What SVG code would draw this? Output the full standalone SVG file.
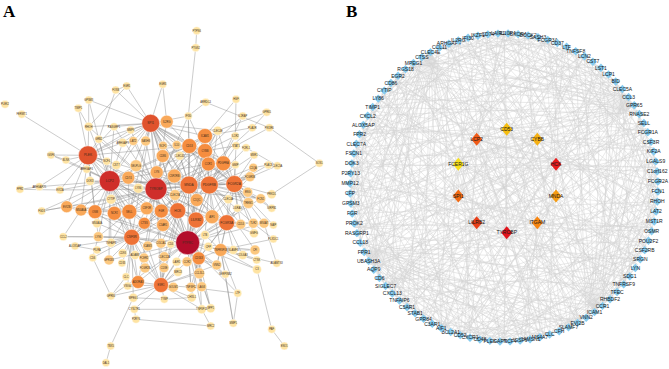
<svg xmlns="http://www.w3.org/2000/svg" width="669" height="369" viewBox="0 0 669 369">
<style>
.ttl{font-family:"Liberation Serif","Times New Roman",serif;font-weight:bold;font-size:17px;fill:#000}
.ea{stroke:#8e8e8e;stroke-width:.45;fill:none}
.eb{stroke:#c4c4c4;stroke-width:.45;fill:none;opacity:.75}
#nodesA circle{stroke:#fff;stroke-width:.5}
#nodesA text{font:2.6px "Liberation Sans",Arial,sans-serif;fill:#3b2b1b;text-anchor:middle}
#nodesA text.tl{font-size:3.2px}
#nodesB text{font:5px "Liberation Sans",Arial,sans-serif;fill:#151515;text-anchor:middle}
.c1{fill:#b30d2b}.c2{fill:#cf2e2a}.c3{fill:#e0532d}.c4{fill:#ee7236}.c5{fill:#f58d3f}.c6{fill:#f9a95a}.c7{fill:#fcc87f}.c8{fill:#fee3a2}
</style>
<defs>
<path id="od" d="M0 -4.2L4.2 0L0 4.2L-4.2 0Z" fill="#86cbef"/>
<path id="idm" d="M0 -6.5L5.5 0L0 6.5L-5.5 0Z"/>
<line id="s2" x1="154" y1="0" x2="148.8" y2="39.9"/>
<line id="s3" x1="154" y1="0" x2="142.3" y2="58.9"/>
<line id="s4" x1="154" y1="0" x2="133.4" y2="77"/>
<line id="s5" x1="154" y1="0" x2="122.2" y2="93.8"/>
<line id="s6" x1="154" y1="0" x2="108.9" y2="108.9"/>
<line id="s7" x1="154" y1="0" x2="93.8" y2="122.2"/>
<line id="s8" x1="154" y1="0" x2="77" y2="133.4"/>
<line id="s9" x1="154" y1="0" x2="58.9" y2="142.3"/>
<line id="s10" x1="154" y1="0" x2="39.9" y2="148.8"/>
<line id="s11" x1="154" y1="0" x2="20.1" y2="152.7"/>
<line id="s12" x1="154" y1="0" x2="0" y2="154"/>
<line id="s13" x1="154" y1="0" x2="-20.1" y2="152.7"/>
<line id="s14" x1="154" y1="0" x2="-39.9" y2="148.8"/>
<line id="s15" x1="154" y1="0" x2="-58.9" y2="142.3"/>
<line id="s16" x1="154" y1="0" x2="-77" y2="133.4"/>
<line id="s17" x1="154" y1="0" x2="-93.8" y2="122.2"/>
<line id="s18" x1="154" y1="0" x2="-108.9" y2="108.9"/>
<line id="s19" x1="154" y1="0" x2="-122.2" y2="93.8"/>
<line id="s20" x1="154" y1="0" x2="-133.4" y2="77"/>
<line id="s21" x1="154" y1="0" x2="-142.3" y2="58.9"/>
<line id="s22" x1="154" y1="0" x2="-148.8" y2="39.9"/>
<line id="s23" x1="154" y1="0" x2="-152.7" y2="20.1"/>
<line id="s24" x1="154" y1="0" x2="-154" y2="0"/>
<g id="g0"><use href="#s2"/><use href="#s9"/><use href="#s5"/><use href="#s15"/></g>
<g id="g1"><use href="#s7"/><use href="#s20"/><use href="#s22"/><use href="#s13"/></g>
<g id="g2"><use href="#s12"/><use href="#s8"/><use href="#s16"/><use href="#s6"/></g>
<g id="g3"><use href="#s17"/><use href="#s19"/><use href="#s10"/><use href="#s13"/></g>
<g id="g4"><use href="#s22"/><use href="#s7"/><use href="#s4"/><use href="#s20"/></g>
<g id="g5"><use href="#s4"/><use href="#s18"/><use href="#s21"/><use href="#s14"/></g>
<g id="g6"><use href="#s9"/><use href="#s6"/><use href="#s15"/><use href="#s11"/></g>
<g id="g7"><use href="#s14"/><use href="#s17"/><use href="#s9"/><use href="#s18"/></g>
<g id="g8"><use href="#s19"/><use href="#s5"/><use href="#s3"/><use href="#s2"/></g>
<g id="g9"><use href="#s24"/><use href="#s16"/><use href="#s20"/><use href="#s9"/></g>
<g id="g10"><use href="#s6"/><use href="#s4"/><use href="#s14"/><use href="#s16"/></g>
<g id="g11"><use href="#s11"/><use href="#s15"/><use href="#s8"/><use href="#s23"/></g>
<g id="g12"><use href="#s16"/><use href="#s3"/><use href="#s2"/><use href="#s7"/></g>
<g id="g13"><use href="#s21"/><use href="#s14"/><use href="#s19"/><use href="#s12"/></g>
<g id="g14"><use href="#s3"/><use href="#s2"/><use href="#s13"/><use href="#s21"/></g>
<g id="g15"><use href="#s8"/><use href="#s13"/><use href="#s7"/><use href="#s5"/></g>
<g id="g16"><use href="#s13"/><use href="#s24"/><use href="#s10"/><use href="#s12"/></g>
<g id="g17"><use href="#s18"/><use href="#s12"/><use href="#s22"/><use href="#s19"/></g>
<g id="g18"><use href="#s23"/><use href="#s17"/><use href="#s12"/><use href="#s3"/></g>
<g id="g19"><use href="#s5"/><use href="#s11"/><use href="#s6"/><use href="#s10"/></g>
<g id="g20"><use href="#s10"/><use href="#s22"/><use href="#s23"/><use href="#s17"/></g>
<g id="g21"><use href="#s15"/><use href="#s10"/><use href="#s17"/><use href="#s24"/></g>
<g id="g22"><use href="#s20"/><use href="#s21"/><use href="#s11"/><use href="#s8"/></g>
</defs>
<rect width="669" height="369" fill="#fff"/>
<text class="ttl" x="3" y="16.5">A</text>
<text class="ttl" x="346" y="16.5">B</text>

<g id="connectors">
<g id="edgesA" class="ea">
<path d="M150.7 123.3L187.7 242.7L109.7 181M156 189L187.7 242.7L88 155.3M189 185L187.7 242.7L209.3 185M234.3 184L187.7 242.7L177.7 210.7M196 220L187.7 242.7L226.7 222.7M131.7 237.3L187.7 242.7L161 285M198.7 258.3L187.7 242.7L220.7 250M138 282L187.7 242.7L189.3 146M205 151L187.7 242.7L205 136M95 211.7L187.7 242.7L129.3 211.7M66.7 206.7L187.7 242.7L98.3 236.7M199.3 273.3L187.7 242.7L191 287.3M210.7 308.3L187.7 242.7L225.3 274.3M255 250L187.7 242.7L260.7 198.7M223.3 163.3L187.7 242.7L156.7 172.3M109 260L187.7 242.7L111 296M237.7 293.3L187.7 242.7L240.7 224.3M248.3 203L187.7 242.7L208.3 164M196.7 200L187.7 242.7L212 216.7M161.3 211L187.7 242.7L144.3 223.3M163 225L187.7 242.7L201.7 286.7M191.7 297.5L187.7 242.7L216.7 265M164.3 256.7L187.7 242.7L144 258M201.7 309.3L187.7 242.7L257 269.5M264 223.3L187.7 242.7L250 176.7"/>
<path d="M150.7 123.3L156 189L109.7 181M88 155.3L156 189L189 185M209.3 185L156 189L234.3 184M177.7 210.7L156 189L196 220M161.3 211L156 189L129.3 211.7M114.3 213.3L156 189L95 211.7M81 210L156 189L111 199.3M138.3 188.3L156 189L128.3 177.7M136 165.7L156 189L145.7 141M189.3 146L156 189L205 151M205 136L156 189L162.7 156M166.7 121.7L156 189L131.7 237.3M161 285L156 189L138 282M223.3 163.3L156 189L208.3 164M260.7 198.7L156 189L144.3 223.3M163 225L156 189L198.7 258.3M88.7 126.7L156 189L90 181M60 190L156 189L98.7 139.3M163 145.7L156 189L176.7 145M114 126.7L156 189L130.7 130M133.3 141L156 189L217.7 130.7M196.7 200L156 189L175 195M147.7 246L156 189L161 243.3M66.7 206.7L156 189L146.7 208.3M226.7 222.7L156 189L212 216.7M188.3 116L156 189L174.3 176"/>
<path d="M150.7 123.3L109.7 181L88 155.3M189 185L109.7 181L209.3 185M177.7 210.7L109.7 181L196 220M129.3 211.7L109.7 181L95 211.7M66.7 206.7L109.7 181L60 190M39.3 186.7L109.7 181L90 181M86.7 169.3L109.7 181L106.7 161.3M116.3 165L109.7 181L136 165.7M128.3 177.7L109.7 181L88.7 126.7M98.7 139.3L109.7 181L114 126.7M189.3 146L109.7 181L131.7 237.3M98.3 236.7L109.7 181L138 282M97 223.3L109.7 181L111 242.7M109 260L109.7 181L88.7 100M208.3 164L109.7 181L234.3 184M161 285L109.7 181L41.7 211M51 155L109.7 181L66 160M205 136L109.7 181L205 151M81 210L109.7 181L114.3 213.3M161.3 211L109.7 181L144.3 223.3M133.3 141L109.7 181L122.7 142.7"/>
<path d="M88 155.3L150.7 123.3L189 185M209.3 185L150.7 123.3L189.3 146M205 151L150.7 123.3L205 136M166.7 121.7L150.7 123.3L188.3 116M163 145.7L150.7 123.3L176.7 145M145.7 141L150.7 123.3L133.3 141M122.7 142.7L150.7 123.3L130.7 130M114 126.7L150.7 123.3L88.7 126.7M98.7 139.3L150.7 123.3L128.3 177.7M156.7 172.3L150.7 123.3L162.7 156M234.3 184L150.7 123.3L223.3 163.3M129.3 211.7L150.7 123.3L177.7 210.7M131.7 237.3L150.7 123.3L162.7 84.3M126.7 86L150.7 123.3L115.7 90M88.7 100L150.7 123.3L217.7 130.7M208.3 164L150.7 123.3L179.7 155.7M196 220L150.7 123.3L196.7 200"/>
<path d="M88.7 126.7L88 155.3L98.7 139.3M78.3 108.3L88 155.3L21.7 114.3M39.3 186.7L88 155.3L51 155M66 160L88 155.3L106.7 161.3M86.7 169.3L88 155.3L90 181M60 190L88 155.3L66.7 206.7M128.3 177.7L88 155.3L95 211.7M129.3 211.7L88 155.3L131.7 237.3M114 126.7L88 155.3L122.7 142.7M130.7 130L88 155.3L189 185M116.3 165L88 155.3L98.3 236.7M81 210L88 155.3L189.3 146"/>
<path d="M189.3 146L189 185L205 151M205 136L189 185L209.3 185M208.3 164L189 185L223.3 163.3M234.3 184L189 185L177.7 210.7M196 220L189 185L161.3 211M226.7 222.7L189 185L175 195M174.3 176L189 185L156.7 172.3M162.7 156L189 185L179.7 155.7M176.7 145L189 185L196.7 200M198.7 258.3L189 185L161 285M131.7 237.3L189 185L260.7 198.7M248.3 203L189 185L217.7 130.7M252.3 127.7L189 185L188.3 116M129.3 211.7L189 185L144.3 223.3M163 225L189 185L212 216.7M250 176.7L189 185L235.3 164.7"/>
<path d="M205 136L209.3 185L205 151M189.3 146L209.3 185L223.3 163.3M208.3 164L209.3 185L234.3 184M196 220L209.3 185L226.7 222.7M212 216.7L209.3 185L196.7 200M228.3 199.3L209.3 185L260.7 198.7M247.7 192.3L209.3 185L250 176.7M253.3 167.7L209.3 185L235.3 164.7M236 145.7L209.3 185L246 147.7M254 155L209.3 185L235.3 136M242.7 116L209.3 185L220.7 250M255 250L209.3 185L253.3 223.3M177.7 210.7L209.3 185L174.3 176M175 195L209.3 185L205 235M240.7 224.3L209.3 185L217.7 130.7"/>
<path d="M223.3 163.3L234.3 184L205 151M205 136L234.3 184L253.3 167.7M277.3 165.7L234.3 184L254 155M250 176.7L234.3 184L247.7 192.3M271.7 194.3L234.3 184L260.7 198.7M248.3 203L234.3 184L237.3 208.3M228.3 199.3L234.3 184L226.7 222.7M240.7 224.3L234.3 184L253.3 223.3M264 223.3L234.3 184L273.3 225M217.7 130.7L234.3 184L236 145.7M268.3 165L234.3 184L235.3 164.7M271.7 208.3L234.3 184L254 233.3M208.3 164L234.3 184L189.3 146"/>
<path d="M98.3 236.7L131.7 237.3L111 242.7M97 250L131.7 237.3L147.7 246M161 243.3L131.7 237.3L122.7 253.3M135 255L131.7 237.3L122 263M109 260L131.7 237.3L144 258M145 268L131.7 237.3L126 276.7M138 282L131.7 237.3L127.7 286M133.3 297.7L131.7 237.3L95 211.7M114.3 213.3L131.7 237.3L129.3 211.7M144.3 223.3L131.7 237.3L92.7 257.7M97 223.3L131.7 237.3L63.3 236.7M75 246L131.7 237.3L177.7 210.7M161.3 211L131.7 237.3L163 225"/>
<path d="M138 282L161 285L173.3 287.3M164 267.7L161 285L178 272M164.3 256.7L161 285L191.7 297.5M164.3 299.3L161 285L191 287.3M144 258L161 285L145 268M127.7 286L161 285L133.3 297.7M216.7 265L161 285L199.3 273.3M161 243.3L161 285L170.7 244.3M134.3 309.3L161 285L201.7 309.3M111 296L161 285L176.7 261.7M187 261.7L161 285L147.7 246"/>
<path d="M161.3 211L177.7 210.7L196 220M163 225L177.7 210.7L144.3 223.3M170.7 244.3L177.7 210.7L161 243.3M147.7 246L177.7 210.7L175 195M196.7 200L177.7 210.7L146.7 208.3M212 216.7L177.7 210.7L174.3 176M198.7 258.3L177.7 210.7L226.7 222.7M156.7 172.3L177.7 210.7L164.3 256.7"/>
<path d="M212 216.7L226.7 222.7L240.7 224.3M205 235L226.7 222.7L208.3 246.7M220.7 250L226.7 222.7L233.3 250M254 233.3L226.7 222.7L237.3 208.3M253.3 223.3L226.7 222.7L196.7 200M228.3 199.3L226.7 222.7L248.3 203M242.7 255L226.7 222.7L198.7 258.3M264 223.3L226.7 222.7L216.7 265"/>
<path d="M205 235L220.7 250L208.3 246.7M233.3 250L220.7 250L242.7 255M255 250L220.7 250L256.7 260M257 269.5L220.7 250L216.7 265M225.3 274.3L220.7 250L233.3 323.3M273.3 239L220.7 250L276.7 263.3M198.7 258.3L220.7 250L237.7 293.3"/>
<path d="M187 261.7L198.7 258.3L176.7 261.7M199.3 273.3L198.7 258.3L201.7 286.7M191 287.3L198.7 258.3L216.7 265M225.3 274.3L198.7 258.3L201.7 309.3M210.7 308.3L198.7 258.3L208.3 246.7M205 235L198.7 258.3L191.7 297.5"/>
<path d="M205 151L189.3 146L205 136M188.3 116L189.3 146L176.7 145M163 145.7L189.3 146L179.7 155.7M162.7 156L189.3 146L208.3 164M166.7 121.7L189.3 146L217.7 130.7M156.7 172.3L189.3 146L174.3 176"/>
<path d="M205 136L205 151L208.3 164M223.3 163.3L205 151L217.7 130.7M235.3 136L205 151L236 145.7M179.7 155.7L205 151L176.7 145M235.3 164.7L205 151L188.3 116"/>
<path d="M95 211.7L129.3 211.7L114.3 213.3M146.7 208.3L129.3 211.7L161.3 211M111 199.3L129.3 211.7L138.3 188.3M81 210L129.3 211.7L66.7 206.7M144.3 223.3L129.3 211.7L98.3 236.7M111 242.7L129.3 211.7L128.3 177.7"/>
<path d="M196.7 30.7L195.7 47.7L188.3 116M162.7 84.3L166.7 121.7M126.7 86L88.7 126.7M126.7 86L115.7 90L98.7 139.3M88.7 100L88.7 126.7M78.3 108.3L88.7 126.7M205.7 102.3L188.3 116M205.7 102.3L269.3 127.7L319.3 163.3L271.7 194.3M236 99.3L205 136M236 99.3L235.3 136M242.7 116L205 151M266.7 112.3L252.3 127.7L205 136M266.7 112.3L217.7 130.7M269.3 127.7L236 145.7M268.3 165L253.3 167.7M277.3 165.7L246 147.7M39.3 186.7L20 189.3L60 190M41.7 211L66.7 206.7M41.7 211L111 199.3M51 155L66 160M63.3 236.7L98.3 236.7M63.3 236.7L81 210M75 246L97 250M92.7 257.7L98.3 236.7M92.7 257.7L111 296L126 276.7M110.7 346L106 362.7M110.7 346L133.3 297.7M134.3 309.3L136 319.3L210.7 326L201.7 309.3L134.3 309.3M233.3 323.3L225.3 274.3M233.3 323.3L237.7 293.3L191 287.3M271.7 329.3L284.3 346M271.7 329.3L257 269.5M276.7 263.3L264 223.3M273.3 239L253.3 223.3M271.7 208.3L260.7 198.7M210.7 308.3L199.3 273.3M191.7 297.5L164.3 299.3L133.3 297.7"/>
</g>

<g id="edgesB" class="eb">
<g transform="translate(504 187.5)">
<use href="#g0" transform="rotate(1.5)"/><use href="#g1" transform="rotate(5.25)"/><use href="#g2" transform="rotate(9)"/><use href="#g3" transform="rotate(12.75)"/><use href="#g4" transform="rotate(16.5)"/><use href="#g5" transform="rotate(20.25)"/><use href="#g6" transform="rotate(24)"/><use href="#g7" transform="rotate(27.75)"/><use href="#g8" transform="rotate(31.5)"/><use href="#g9" transform="rotate(35.25)"/><use href="#g10" transform="rotate(39)"/><use href="#g11" transform="rotate(42.75)"/>
<use href="#g12" transform="rotate(46.5)"/><use href="#g13" transform="rotate(50.25)"/><use href="#g14" transform="rotate(54)"/><use href="#g15" transform="rotate(57.75)"/><use href="#g16" transform="rotate(61.5)"/><use href="#g17" transform="rotate(65.25)"/><use href="#g18" transform="rotate(69)"/><use href="#g19" transform="rotate(72.75)"/><use href="#g20" transform="rotate(76.5)"/><use href="#g21" transform="rotate(80.25)"/><use href="#g22" transform="rotate(84)"/>
<use href="#g0" transform="rotate(87.75)"/><use href="#g1" transform="rotate(91.5)"/><use href="#g2" transform="rotate(95.25)"/><use href="#g3" transform="rotate(99)"/><use href="#g4" transform="rotate(102.75)"/><use href="#g5" transform="rotate(106.5)"/><use href="#g6" transform="rotate(110.25)"/><use href="#g7" transform="rotate(114)"/><use href="#g8" transform="rotate(117.75)"/><use href="#g9" transform="rotate(121.5)"/><use href="#g10" transform="rotate(125.25)"/><use href="#g11" transform="rotate(129)"/>
<use href="#g12" transform="rotate(132.75)"/><use href="#g13" transform="rotate(136.5)"/><use href="#g14" transform="rotate(140.25)"/><use href="#g15" transform="rotate(144)"/><use href="#g16" transform="rotate(147.75)"/><use href="#g17" transform="rotate(151.5)"/><use href="#g18" transform="rotate(155.25)"/><use href="#g19" transform="rotate(159)"/><use href="#g20" transform="rotate(162.75)"/><use href="#g21" transform="rotate(166.5)"/><use href="#g22" transform="rotate(170.25)"/>
<use href="#g0" transform="rotate(174)"/><use href="#g1" transform="rotate(177.75)"/><use href="#g2" transform="rotate(181.5)"/><use href="#g3" transform="rotate(185.25)"/><use href="#g4" transform="rotate(189)"/><use href="#g5" transform="rotate(192.75)"/><use href="#g6" transform="rotate(196.5)"/><use href="#g7" transform="rotate(200.25)"/><use href="#g8" transform="rotate(204)"/><use href="#g9" transform="rotate(207.75)"/><use href="#g10" transform="rotate(211.5)"/><use href="#g11" transform="rotate(215.25)"/>
<use href="#g12" transform="rotate(219)"/><use href="#g13" transform="rotate(222.75)"/><use href="#g14" transform="rotate(226.5)"/><use href="#g15" transform="rotate(230.25)"/><use href="#g16" transform="rotate(234)"/><use href="#g17" transform="rotate(237.75)"/><use href="#g18" transform="rotate(241.5)"/><use href="#g19" transform="rotate(245.25)"/><use href="#g20" transform="rotate(249)"/><use href="#g21" transform="rotate(252.75)"/><use href="#g22" transform="rotate(256.5)"/>
<use href="#g0" transform="rotate(260.25)"/><use href="#g1" transform="rotate(264)"/><use href="#g2" transform="rotate(267.75)"/><use href="#g3" transform="rotate(271.5)"/><use href="#g4" transform="rotate(275.25)"/><use href="#g5" transform="rotate(279)"/><use href="#g6" transform="rotate(282.75)"/><use href="#g7" transform="rotate(286.5)"/><use href="#g8" transform="rotate(290.25)"/><use href="#g9" transform="rotate(294)"/><use href="#g10" transform="rotate(297.75)"/><use href="#g11" transform="rotate(301.5)"/>
<use href="#g12" transform="rotate(305.25)"/><use href="#g13" transform="rotate(309)"/><use href="#g14" transform="rotate(312.75)"/><use href="#g15" transform="rotate(316.5)"/><use href="#g16" transform="rotate(320.25)"/><use href="#g17" transform="rotate(324)"/><use href="#g18" transform="rotate(327.75)"/><use href="#g19" transform="rotate(331.5)"/><use href="#g20" transform="rotate(335.25)"/><use href="#g21" transform="rotate(339)"/><use href="#g22" transform="rotate(342.75)"/>
<use href="#g0" transform="rotate(346.5)"/><use href="#g1" transform="rotate(350.25)"/><use href="#g2" transform="rotate(354)"/><use href="#g3" transform="rotate(357.75)"/>
</g>
<path d="M504 33.5L506.7 129.3L581 54.1M637.4 110.5L506.7 129.3L427 54.1M370.6 110.5L506.7 129.3L370.6 264.5M504 341.5L506.7 129.3L612.9 296.4M427 320.9L506.7 129.3L350 187.5M652.8 227.4L506.7 129.3L652.8 147.6M543.9 336.3L506.7 129.3L464.1 38.7"/>
<path d="M445.1 45.2L476.7 139.3L395.1 78.6M355.2 147.6L476.7 139.3L355.2 227.4M395.1 296.4L476.7 139.3L464.1 336.3M543.9 336.3L476.7 139.3L637.4 264.5M612.9 78.6L476.7 139.3L543.9 38.7M658 187.5L476.7 139.3L581 320.9M646.3 128.6L476.7 139.3L504 33.5"/>
<path d="M524.1 34.8L537.3 139.3L597.8 65.3M626.2 93.7L537.3 139.3L656.7 207.6M626.2 281.3L537.3 139.3L562.9 329.8M483.9 340.2L537.3 139.3L410.2 309.7M361.7 246.4L537.3 139.3L361.7 128.6M410.2 65.3L537.3 139.3L483.9 34.8M652.8 147.6L537.3 139.3L350 187.5"/>
<path d="M351.3 167.4L458.3 164.3L381.8 93.7M351.3 207.6L458.3 164.3L381.8 281.3M445.1 329.8L458.3 164.3L524.1 340.2M597.8 309.7L458.3 164.3L646.3 246.4M562.9 45.2L458.3 164.3L656.7 167.4M483.9 34.8L458.3 164.3L410.2 65.3"/>
<path d="M658 187.5L556 164.3L646.3 246.4M597.8 309.7L556 164.3L524.1 340.2M445.1 329.8L556 164.3L381.8 281.3M351.3 207.6L556 164.3L361.7 128.6M410.2 65.3L556 164.3L562.9 45.2M612.9 78.6L556 164.3L646.3 128.6M656.7 167.4L556 164.3L464.1 38.7"/>
<path d="M350 187.5L458.3 196L361.7 246.4M395.1 296.4L458.3 196L355.2 147.6M395.1 78.6L458.3 196L504 341.5M581 320.9L458.3 196L637.4 264.5M581 54.1L458.3 196L637.4 110.5M504 33.5L458.3 196L370.6 110.5"/>
<path d="M656.7 207.6L556 196L637.4 264.5M612.9 296.4L556 196L543.9 336.3M464.1 336.3L556 196L427 320.9M355.2 227.4L556 196L395.1 78.6M445.1 45.2L556 196L543.9 38.7M612.9 78.6L556 196L637.4 110.5"/>
<path d="M483.9 340.2L476.7 222.7L445.1 329.8M410.2 309.7L476.7 222.7L381.8 281.3M370.6 264.5L476.7 222.7L355.2 227.4M361.7 128.6L476.7 222.7L381.8 93.7M427 54.1L476.7 222.7L652.8 227.4M612.9 296.4L476.7 222.7L626.2 93.7M543.9 38.7L476.7 222.7L562.9 329.8"/>
<path d="M652.8 227.4L537.3 222.7L626.2 281.3M581 320.9L537.3 222.7L562.9 329.8M524.1 340.2L537.3 222.7L504 341.5M464.1 336.3L537.3 222.7L351.3 167.4M381.8 93.7L537.3 222.7L483.9 34.8M597.8 65.3L537.3 222.7L646.3 128.6"/>
<path d="M504 341.5L506.7 232.7L543.9 336.3M464.1 336.3L506.7 232.7L427 320.9M395.1 296.4L506.7 232.7L597.8 309.7M626.2 281.3L506.7 232.7L370.6 264.5M355.2 227.4L506.7 232.7L350 187.5M355.2 147.6L506.7 232.7L370.6 110.5M427 54.1L506.7 232.7L504 33.5M581 54.1L506.7 232.7L637.4 110.5M656.7 207.6L506.7 232.7L646.3 246.4"/>
<path d="M506.7 129.3L476.7 139.3L458.3 164.3L458.3 196L476.7 222.7L506.7 232.7L537.3 222.7L556 196L556 164.3L537.3 139.3ZM506.7 129.3L506.7 232.7M476.7 139.3L537.3 222.7M537.3 139.3L476.7 222.7M458.3 164.3L556 196M556 164.3L458.3 196M506.7 129.3L458.3 196M506.7 129.3L556 196M476.7 139.3L556 164.3M458.3 164.3L537.3 139.3M506.7 232.7L458.3 164.3M506.7 232.7L556 164.3M476.7 222.7L556 196M537.3 222.7L458.3 196M476.7 139.3L506.7 232.7M537.3 139.3L506.7 232.7"/>
</g>
</g>

<g id="nodesA">
<g id="a-PTPN6"><circle class="c8" cx="196.7" cy="30.7" r="4"/><text x="196.7" y="31.65">PTPN6</text></g>
<g id="a-PTGS2"><circle class="c8" cx="195.7" cy="47.7" r="4"/><text x="195.7" y="48.65">PTGS2</text></g>
<g id="a-EGR3"><circle class="c8" cx="162.7" cy="84.3" r="4"/><text x="162.7" y="85.25">EGR3</text></g>
<g id="a-EGR1"><circle class="c8" cx="126.7" cy="86" r="4"/><text x="126.7" y="86.95">EGR1</text></g>
<g id="a-FOSB"><circle class="c8" cx="115.7" cy="90" r="4"/><text x="115.7" y="90.95">FOSB</text></g>
<g id="a-PLEK2"><circle class="c8" cx="5" cy="104.3" r="4"/><text x="5" y="105.25">PLEK2</text></g>
<g id="a-FERMT1"><circle class="c8" cx="21.7" cy="114.3" r="4"/><text x="21.7" y="115.25">FERMT1</text></g>
<g id="a-GPSM3"><circle class="c8" cx="88.7" cy="100" r="4"/><text x="88.7" y="100.95">GPSM3</text></g>
<g id="a-TIMP1"><circle class="c8" cx="78.3" cy="108.3" r="4"/><text x="78.3" y="109.25">TIMP1</text></g>
<g id="a-ARRDC4"><circle class="c8" cx="205.7" cy="102.3" r="4"/><text x="205.7" y="103.25">ARRDC4</text></g>
<g id="a-HGF"><circle class="c8" cx="236" cy="99.3" r="4"/><text x="236" y="100.25">HGF</text></g>
<g id="a-IL1RAP"><circle class="c8" cx="242.7" cy="116" r="4"/><text x="242.7" y="116.95">IL1RAP</text></g>
<g id="a-GPR65"><circle class="c8" cx="266.7" cy="112.3" r="4"/><text x="266.7" y="113.25">GPR65</text></g>
<g id="a-PLAUR"><circle class="c8" cx="252.3" cy="127.7" r="4"/><text x="252.3" y="128.65">PLAUR</text></g>
<g id="a-PIK3R6"><circle class="c8" cx="269.3" cy="127.7" r="4"/><text x="269.3" y="128.65">PIK3R6</text></g>
<g id="a-SOS1"><circle class="c8" cx="319.3" cy="163.3" r="4"/><text x="319.3" y="164.25">SOS1</text></g>
<g id="a-IFI30"><circle class="c8" cx="188.3" cy="116" r="4"/><text x="188.3" y="116.95">IFI30</text></g>
<g id="a-IL2RG"><circle class="c6" cx="166.7" cy="121.7" r="6.5"/><text x="166.7" y="122.65">IL2RG</text></g>
<g id="a-SPI1"><circle class="c3" cx="150.7" cy="123.3" r="9"/><text class="tl" x="150.7" y="124.45">SPI1</text></g>
<g id="a-RASGRP1"><circle class="c8" cx="114" cy="126.7" r="4"/><text x="114" y="127.65">RASGRP1</text></g>
<g id="a-MMP9"><circle class="c8" cx="130.7" cy="130" r="4"/><text x="130.7" y="130.95">MMP9</text></g>
<g id="a-RHOH"><circle class="c8" cx="88.7" cy="126.7" r="4.5"/><text x="88.7" y="127.65">RHOH</text></g>
<g id="a-ICAM1"><circle class="c5" cx="205" cy="136" r="7.5"/><text x="205" y="136.95">ICAM1</text></g>
<g id="a-CLEC4E"><circle class="c8" cx="217.7" cy="130.7" r="4.5"/><text x="217.7" y="131.65">CLEC4E</text></g>
<g id="a-IL1R2"><circle class="c8" cx="235.3" cy="136" r="4"/><text x="235.3" y="136.95">IL1R2</text></g>
<g id="a-STAT1"><circle class="c8" cx="236" cy="145.7" r="4"/><text x="236" y="146.65">STAT1</text></g>
<g id="a-FCRL1"><circle class="c8" cx="246" cy="147.7" r="4"/><text x="246" y="148.65">FCRL1</text></g>
<g id="a-CD53"><circle class="c5" cx="189.3" cy="146" r="7.5"/><text x="189.3" y="146.95">CD53</text></g>
<g id="a-CYBB"><circle class="c5" cx="205" cy="151" r="7.5"/><text x="205" y="151.95">CYBB</text></g>
<g id="a-IL10"><circle class="c7" cx="176.7" cy="145" r="4.5"/><text x="176.7" y="145.95">IL10</text></g>
<g id="a-NCF1"><circle class="c7" cx="163" cy="145.7" r="4.5"/><text x="163" y="146.65">NCF1</text></g>
<g id="a-CLEC4D"><circle class="c8" cx="179.7" cy="155.7" r="4.5"/><text x="179.7" y="156.65">CLEC4D</text></g>
<g id="a-SASH3"><circle class="c7" cx="145.7" cy="141" r="5"/><text x="145.7" y="141.95">SASH3</text></g>
<g id="a-LAT2"><circle class="c7" cx="133.3" cy="141" r="4.5"/><text x="133.3" y="141.95">LAT2</text></g>
<g id="a-ARHGAP9"><circle class="c8" cx="122.7" cy="142.7" r="4.5"/><text x="122.7" y="143.65">ARHGAP9</text></g>
<g id="a-GRB2"><circle class="c8" cx="98.7" cy="139.3" r="4"/><text x="98.7" y="140.25">GRB2</text></g>
<g id="a-CD86"><circle class="c6" cx="162.7" cy="156" r="6.5"/><text x="162.7" y="156.95">CD86</text></g>
<g id="a-PLEK"><circle class="c3" cx="88" cy="155.3" r="9.5"/><text class="tl" x="88" y="156.45">PLEK</text></g>
<g id="a-IGSF6"><circle class="c8" cx="51" cy="155" r="4"/><text x="51" y="155.95">IGSF6</text></g>
<g id="a-BLNK"><circle class="c8" cx="66" cy="160" r="4"/><text x="66" y="160.95">BLNK</text></g>
<g id="a-NCF4"><circle class="c8" cx="106.7" cy="161.3" r="4"/><text x="106.7" y="162.25">NCF4</text></g>
<g id="a-CST7"><circle class="c8" cx="116.3" cy="165" r="4.5"/><text x="116.3" y="165.95">CST7</text></g>
<g id="a-SELPLG"><circle class="c7" cx="136" cy="165.7" r="6"/><text x="136" y="166.65">SELPLG</text></g>
<g id="a-ARHGAP4"><circle class="c8" cx="86.7" cy="169.3" r="4"/><text x="86.7" y="170.25">ARHGAP4</text></g>
<g id="a-DOK3"><circle class="c8" cx="90" cy="181" r="4.5"/><text x="90" y="181.95">DOK3</text></g>
<g id="a-LCP2"><circle class="c2" cx="109.7" cy="181" r="10.5"/><text class="tl" x="109.7" y="182.15">LCP2</text></g>
<g id="a-CD74"><circle class="c6" cx="128.3" cy="177.7" r="6.5"/><text x="128.3" y="178.65">CD74</text></g>
<g id="a-LYN"><circle class="c6" cx="156.7" cy="172.3" r="6.5"/><text x="156.7" y="173.25">LYN</text></g>
<g id="a-CSF2RB"><circle class="c6" cx="174.3" cy="176" r="7"/><text x="174.3" y="176.95">CSF2RB</text></g>
<g id="a-MNDA"><circle class="c4" cx="189" cy="185" r="9"/><text class="tl" x="189" y="186.15">MNDA</text></g>
<g id="a-PDGFRB"><circle class="c4" cx="209.3" cy="185" r="9"/><text class="tl" x="209.3" y="186.15">PDGFRB</text></g>
<g id="a-CCR1"><circle class="c5" cx="208.3" cy="164" r="7"/><text x="208.3" y="164.95">CCR1</text></g>
<g id="a-PDGFRA"><circle class="c5" cx="223.3" cy="163.3" r="7.5"/><text x="223.3" y="164.25">PDGFRA</text></g>
<g id="a-GMIP"><circle class="c8" cx="235.3" cy="164.7" r="4"/><text x="235.3" y="165.65">GMIP</text></g>
<g id="a-C1QA"><circle class="c7" cx="253.3" cy="167.7" r="4.5"/><text x="253.3" y="168.65">C1QA</text></g>
<g id="a-CLEC5A"><circle class="c8" cx="277.3" cy="165.7" r="4"/><text x="277.3" y="166.65">CLEC5A</text></g>
<g id="a-PLAC8"><circle class="c8" cx="268.3" cy="165" r="4"/><text x="268.3" y="165.95">PLAC8</text></g>
<g id="a-MSR1"><circle class="c8" cx="254" cy="155" r="4"/><text x="254" y="155.95">MSR1</text></g>
<g id="a-FCGR3B"><circle class="c7" cx="250" cy="176.7" r="5"/><text x="250" y="177.65">FCGR3B</text></g>
<g id="a-FCGR2A"><circle class="c4" cx="234.3" cy="184" r="8.5"/><text class="tl" x="234.3" y="185.15">FCGR2A</text></g>
<g id="a-ENG"><circle class="c7" cx="247.7" cy="192.3" r="5"/><text x="247.7" y="193.25">ENG</text></g>
<g id="a-PRKD1"><circle class="c8" cx="271.7" cy="194.3" r="4.5"/><text x="271.7" y="195.25">PRKD1</text></g>
<g id="a-FCN1"><circle class="c7" cx="260.7" cy="198.7" r="5"/><text x="260.7" y="199.65">FCN1</text></g>
<g id="a-SIRPB1"><circle class="c8" cx="271.7" cy="208.3" r="4"/><text x="271.7" y="209.25">SIRPB1</text></g>
<g id="a-TREM1"><circle class="c7" cx="248.3" cy="203" r="5.5"/><text x="248.3" y="203.95">TREM1</text></g>
<g id="a-LILRA5"><circle class="c8" cx="237.3" cy="208.3" r="4"/><text x="237.3" y="209.25">LILRA5</text></g>
<g id="a-CLEC4A"><circle class="c8" cx="228.3" cy="199.3" r="4.5"/><text x="228.3" y="200.25">CLEC4A</text></g>
<g id="a-C1QC"><circle class="c6" cx="196.7" cy="200" r="6.5"/><text x="196.7" y="200.95">C1QC</text></g>
<g id="a-CLEC7A"><circle class="c7" cx="175" cy="195" r="5.5"/><text x="175" y="195.95">CLEC7A</text></g>
<g id="a-TYROBP"><circle class="c2" cx="156" cy="189" r="11"/><text class="tl" x="156" y="190.15">TYROBP</text></g>
<g id="a-LY86"><circle class="c8" cx="138.3" cy="188.3" r="5"/><text x="138.3" y="189.25">LY86</text></g>
<g id="a-CYTIP"><circle class="c8" cx="111" cy="199.3" r="5"/><text x="111" y="200.25">CYTIP</text></g>
<g id="a-EVI2A"><circle class="c8" cx="60" cy="190" r="4"/><text x="60" y="190.95">EVI2A</text></g>
<g id="a-ARHGAP25"><circle class="c8" cx="39.3" cy="186.7" r="4"/><text x="39.3" y="187.65">ARHGAP25</text></g>
<g id="a-FPR2"><circle class="c8" cx="20" cy="189.3" r="4"/><text x="20" y="190.25">FPR2</text></g>
<g id="a-FGD3"><circle class="c8" cx="41.7" cy="211" r="4"/><text x="41.7" y="211.95">FGD3</text></g>
<g id="a-EVI2B"><circle class="c6" cx="66.7" cy="206.7" r="6"/><text x="66.7" y="207.65">EVI2B</text></g>
<g id="a-MS4A6A"><circle class="c6" cx="81" cy="210" r="6"/><text x="81" y="210.95">MS4A6A</text></g>
<g id="a-OSM"><circle class="c5" cx="95" cy="211.7" r="7"/><text x="95" y="212.65">OSM</text></g>
<g id="a-NCF2"><circle class="c5" cx="114.3" cy="213.3" r="7"/><text x="114.3" y="214.25">NCF2</text></g>
<g id="a-SELL"><circle class="c5" cx="129.3" cy="211.7" r="7.5"/><text x="129.3" y="212.65">SELL</text></g>
<g id="a-CSF1R"><circle class="c6" cx="146.7" cy="208.3" r="6.5"/><text x="146.7" y="209.25">CSF1R</text></g>
<g id="a-FGR"><circle class="c5" cx="161.3" cy="211" r="7"/><text x="161.3" y="211.95">FGR</text></g>
<g id="a-HCK"><circle class="c4" cx="177.7" cy="210.7" r="8"/><text class="tl" x="177.7" y="211.85">HCK</text></g>
<g id="a-LILRB2"><circle class="c4" cx="196" cy="220" r="8"/><text class="tl" x="196" y="221.15">LILRB2</text></g>
<g id="a-AIF1"><circle class="c6" cx="212" cy="216.7" r="7"/><text x="212" y="217.65">AIF1</text></g>
<g id="a-FCGR3A"><circle class="c4" cx="226.7" cy="222.7" r="8"/><text class="tl" x="226.7" y="223.85">FCGR3A</text></g>
<g id="a-CD14"><circle class="c7" cx="240.7" cy="224.3" r="5"/><text x="240.7" y="225.25">CD14</text></g>
<g id="a-TLR2"><circle class="c7" cx="253.3" cy="223.3" r="5"/><text x="253.3" y="224.25">TLR2</text></g>
<g id="a-MS4A7"><circle class="c7" cx="264" cy="223.3" r="5"/><text x="264" y="224.25">MS4A7</text></g>
<g id="a-NAIP"><circle class="c8" cx="273.3" cy="225" r="4"/><text x="273.3" y="225.95">NAIP</text></g>
<g id="a-MS4A4A"><circle class="c8" cx="97" cy="223.3" r="4.5"/><text x="97" y="224.25">MS4A4A</text></g>
<g id="a-LY96"><circle class="c7" cx="98.3" cy="236.7" r="5"/><text x="98.3" y="237.65">LY96</text></g>
<g id="a-CCL2"><circle class="c8" cx="63.3" cy="236.7" r="4"/><text x="63.3" y="237.65">CCL2</text></g>
<g id="a-ALOX5AP"><circle class="c8" cx="75" cy="246" r="4"/><text x="75" y="246.95">ALOX5AP</text></g>
<g id="a-TNFAIP8"><circle class="c8" cx="111" cy="242.7" r="4.5"/><text x="111" y="243.65">TNFAIP8</text></g>
<g id="a-PILRA"><circle class="c8" cx="97" cy="250" r="4"/><text x="97" y="250.95">PILRA</text></g>
<g id="a-CD6"><circle class="c8" cx="92.7" cy="257.7" r="4"/><text x="92.7" y="258.65">CD6</text></g>
<g id="a-CSF3R"><circle class="c4" cx="131.7" cy="237.3" r="8"/><text class="tl" x="131.7" y="238.45">CSF3R</text></g>
<g id="a-ICAM3"><circle class="c7" cx="147.7" cy="246" r="5"/><text x="147.7" y="246.95">ICAM3</text></g>
<g id="a-COL1A1"><circle class="c7" cx="161" cy="243.3" r="5"/><text x="161" y="244.25">COL1A1</text></g>
<g id="a-CD4"><circle class="c8" cx="170.7" cy="244.3" r="4"/><text x="170.7" y="245.25">CD4</text></g>
<g id="a-C5AR1"><circle class="c6" cx="163" cy="225" r="6.5"/><text x="163" y="225.95">C5AR1</text></g>
<g id="a-CTSS"><circle class="c5" cx="144.3" cy="223.3" r="6"/><text x="144.3" y="224.25">CTSS</text></g>
<g id="a-PTPRC"><circle class="c1" cx="187.7" cy="242.7" r="12"/><text class="tl" x="187.7" y="243.85">PTPRC</text></g>
<g id="a-LTB"><circle class="c8" cx="205" cy="235" r="4.5"/><text x="205" y="235.95">LTB</text></g>
<g id="a-CFP"><circle class="c8" cx="208.3" cy="246.7" r="4.5"/><text x="208.3" y="247.65">CFP</text></g>
<g id="a-TNFRSF1B"><circle class="c6" cx="220.7" cy="250" r="6.5"/><text x="220.7" y="250.95">TNFRSF1B</text></g>
<g id="a-SLAMF8"><circle class="c8" cx="233.3" cy="250" r="4.5"/><text x="233.3" y="250.95">SLAMF8</text></g>
<g id="a-COL6A3"><circle class="c8" cx="242.7" cy="255" r="4.5"/><text x="242.7" y="255.95">COL6A3</text></g>
<g id="a-CFI"><circle class="c7" cx="255" cy="250" r="5"/><text x="255" y="250.95">CFI</text></g>
<g id="a-GMFG"><circle class="c8" cx="254" cy="233.3" r="4.5"/><text x="254" y="234.25">GMFG</text></g>
<g id="a-CTSK"><circle class="c8" cx="256.7" cy="260" r="4"/><text x="256.7" y="260.95">CTSK</text></g>
<g id="a-PLXDC1"><circle class="c8" cx="273.3" cy="239" r="4"/><text x="273.3" y="239.95">PLXDC1</text></g>
<g id="a-ADAMTS3"><circle class="c8" cx="276.7" cy="263.3" r="4"/><text x="276.7" y="264.25">ADAMTS3</text></g>
<g id="a-C3"><circle class="c8" cx="257" cy="269.5" r="4.5"/><text x="257" y="270.45">C3</text></g>
<g id="a-CD93"><circle class="c8" cx="122.7" cy="253.3" r="4.5"/><text x="122.7" y="254.25">CD93</text></g>
<g id="a-ADAM8"><circle class="c8" cx="135" cy="255" r="4.5"/><text x="135" y="255.95">ADAM8</text></g>
<g id="a-CD33"><circle class="c8" cx="122" cy="263" r="4"/><text x="122" y="263.95">CD33</text></g>
<g id="a-GPR183"><circle class="c7" cx="109" cy="260" r="5"/><text x="109" y="260.95">GPR183</text></g>
<g id="a-FCER2"><circle class="c7" cx="144" cy="258" r="5"/><text x="144" y="258.95">FCER2</text></g>
<g id="a-CLEC12A"><circle class="c7" cx="164.3" cy="256.7" r="5"/><text x="164.3" y="257.65">CLEC12A</text></g>
<g id="a-LAIR1"><circle class="c8" cx="176.7" cy="261.7" r="4.5"/><text x="176.7" y="262.65">LAIR1</text></g>
<g id="a-CCR2"><circle class="c7" cx="187" cy="261.7" r="5"/><text x="187" y="262.65">CCR2</text></g>
<g id="a-CD163"><circle class="c5" cx="198.7" cy="258.3" r="6.5"/><text x="198.7" y="259.25">CD163</text></g>
<g id="a-VNN2"><circle class="c7" cx="216.7" cy="265" r="5"/><text x="216.7" y="265.95">VNN2</text></g>
<g id="a-CCL3L1"><circle class="c7" cx="199.3" cy="273.3" r="5.5"/><text x="199.3" y="274.25">CCL3L1</text></g>
<g id="a-SERPINB2"><circle class="c8" cx="225.3" cy="274.3" r="4"/><text x="225.3" y="275.25">SERPINB2</text></g>
<g id="a-CD3E"><circle class="c7" cx="164" cy="267.7" r="5"/><text x="164" y="268.65">CD3E</text></g>
<g id="a-BIRC3"><circle class="c8" cx="178" cy="272" r="4.5"/><text x="178" y="272.95">BIRC3</text></g>
<g id="a-FCGR2B"><circle class="c7" cx="145" cy="268" r="5"/><text x="145" y="268.95">FCGR2B</text></g>
<g id="a-CLC"><circle class="c8" cx="126" cy="276.7" r="4"/><text x="126" y="277.65">CLC</text></g>
<g id="a-ADORA3"><circle class="c5" cx="138" cy="282" r="6.5"/><text x="138" y="282.95">ADORA3</text></g>
<g id="a-ESR1"><circle class="c4" cx="161" cy="285" r="7.5"/><text x="161" y="285.95">ESR1</text></g>
<g id="a-GOLM1"><circle class="c7" cx="173.3" cy="287.3" r="5"/><text x="173.3" y="288.25">GOLM1</text></g>
<g id="a-TNFSF12"><circle class="c7" cx="191" cy="287.3" r="5"/><text x="191" y="288.25">TNFSF12</text></g>
<g id="a-LAG3"><circle class="c7" cx="201.7" cy="286.7" r="5"/><text x="201.7" y="287.65">LAG3</text></g>
<g id="a-CHI3L1"><circle class="c8" cx="191.7" cy="297.5" r="4.5"/><text x="191.7" y="298.45">CHI3L1</text></g>
<g id="a-VSIG4"><circle class="c8" cx="127.7" cy="286" r="4"/><text x="127.7" y="286.95">VSIG4</text></g>
<g id="a-GPR84"><circle class="c8" cx="111" cy="296" r="4"/><text x="111" y="296.95">GPR84</text></g>
<g id="a-MPEG1"><circle class="c8" cx="133.3" cy="297.7" r="4.5"/><text x="133.3" y="298.65">MPEG1</text></g>
<g id="a-TYMP"><circle class="c8" cx="164.3" cy="299.3" r="4"/><text x="164.3" y="300.25">TYMP</text></g>
<g id="a-CYSLTR1"><circle class="c8" cx="134.3" cy="309.3" r="4"/><text x="134.3" y="310.25">CYSLTR1</text></g>
<g id="a-P2RY6"><circle class="c8" cx="136" cy="319.3" r="4"/><text x="136" y="320.25">P2RY6</text></g>
<g id="a-SPP1"><circle class="c8" cx="210.7" cy="308.3" r="4.5"/><text x="210.7" y="309.25">SPP1</text></g>
<g id="a-TNFSF13"><circle class="c8" cx="201.7" cy="309.3" r="4.5"/><text x="201.7" y="310.25">TNFSF13</text></g>
<g id="a-MRC2"><circle class="c8" cx="210.7" cy="326" r="4"/><text x="210.7" y="326.95">MRC2</text></g>
<g id="a-MMP1"><circle class="c8" cx="233.3" cy="323.3" r="4"/><text x="233.3" y="324.25">MMP1</text></g>
<g id="a-LTF"><circle class="c8" cx="237.7" cy="293.3" r="4"/><text x="237.7" y="294.25">LTF</text></g>
<g id="a-PAF"><circle class="c8" cx="271.7" cy="329.3" r="4"/><text x="271.7" y="330.25">PAF</text></g>
<g id="a-ENO1"><circle class="c8" cx="284.3" cy="346" r="4"/><text x="284.3" y="346.95">ENO1</text></g>
<g id="a-TBX5"><circle class="c8" cx="110.7" cy="346" r="4"/><text x="110.7" y="346.95">TBX5</text></g>
<g id="a-DAL1"><circle class="c8" cx="106" cy="362.7" r="4"/><text x="106" y="363.65">DAL1</text></g>
</g>

<g id="nodesB">
<g transform="translate(504 187.5)">
<g id="b-FCN1" transform="rotate(1.5) translate(154) rotate(-1.5)"><use href="#od"/><text y="1.75">FCN1</text></g>
<g id="b-RHOH" transform="rotate(5.25) translate(154) rotate(-5.25)"><use href="#od"/><text y="1.75">RHOH</text></g>
<g id="b-LAT2" transform="rotate(9) translate(154) rotate(-9)"><use href="#od"/><text y="1.75">LAT2</text></g>
<g id="b-MST1R" transform="rotate(12.75) translate(154) rotate(-12.75)"><use href="#od"/><text y="1.75">MST1R</text></g>
<g id="b-OSMR" transform="rotate(16.5) translate(154) rotate(-16.5)"><use href="#od"/><text y="1.75">OSMR</text></g>
<g id="b-POU2F2" transform="rotate(20.25) translate(154) rotate(-20.25)"><use href="#od"/><text y="1.75">POU2F2</text></g>
<g id="b-CSF2RB" transform="rotate(24) translate(154) rotate(-24)"><use href="#od"/><text y="1.75">CSF2RB</text></g>
<g id="b-SRGN" transform="rotate(27.75) translate(154) rotate(-27.75)"><use href="#od"/><text y="1.75">SRGN</text></g>
<g id="b-LYN" transform="rotate(31.5) translate(154) rotate(-31.5)"><use href="#od"/><text y="1.75">LYN</text></g>
<g id="b-SDC1" transform="rotate(35.25) translate(154) rotate(-35.25)"><use href="#od"/><text y="1.75">SDC1</text></g>
<g id="b-TNFRSF9" transform="rotate(39) translate(154) rotate(-39)"><use href="#od"/><text y="1.75">TNFRSF9</text></g>
<g id="b-TFEC" transform="rotate(42.75) translate(154) rotate(-42.75)"><use href="#od"/><text y="1.75">TFEC</text></g>
<g id="b-RHBDF2" transform="rotate(46.5) translate(154) rotate(-46.5)"><use href="#od"/><text y="1.75">RHBDF2</text></g>
<g id="b-CCR1" transform="rotate(50.25) translate(154) rotate(-50.25)"><use href="#od"/><text y="1.75">CCR1</text></g>
<g id="b-ICAM1" transform="rotate(54) translate(154) rotate(-54)"><use href="#od"/><text y="1.75">ICAM1</text></g>
<g id="b-VNN2" transform="rotate(57.75) translate(154) rotate(-57.75)"><use href="#od"/><text y="1.75">VNN2</text></g>
<g id="b-EVI2B" transform="rotate(61.5) translate(154) rotate(-61.5)"><use href="#od"/><text y="1.75">EVI2B</text></g>
<g id="b-SLAMF7" transform="rotate(65.25) translate(154) rotate(-65.25)"><use href="#od"/><text y="1.75">SLAMF7</text></g>
<g id="b-CFH" transform="rotate(69) translate(154) rotate(-69)"><use href="#od"/><text y="1.75">CFH</text></g>
<g id="b-CLC" transform="rotate(72.75) translate(154) rotate(-72.75)"><use href="#od"/><text y="1.75">CLC</text></g>
<g id="b-MS4A7" transform="rotate(76.5) translate(154) rotate(-76.5)"><use href="#od"/><text y="1.75">MS4A7</text></g>
<g id="b-SAMSN1" transform="rotate(80.25) translate(154) rotate(-80.25)"><use href="#od"/><text y="1.75">SAMSN1</text></g>
<g id="b-IGSF6" transform="rotate(84) translate(154) rotate(-84)"><use href="#od"/><text y="1.75">IGSF6</text></g>
<g id="b-NCF4" transform="rotate(87.75) translate(154) rotate(-87.75)"><use href="#od"/><text y="1.75">NCF4</text></g>
<g id="b-GAPT" transform="rotate(91.5) translate(154) rotate(-91.5)"><use href="#od"/><text y="1.75">GAPT</text></g>
<g id="b-PLEK" transform="rotate(95.25) translate(154) rotate(-95.25)"><use href="#od"/><text y="1.75">PLEK</text></g>
<g id="b-CD48" transform="rotate(99) translate(154) rotate(-99)"><use href="#od"/><text y="1.75">CD48</text></g>
<g id="b-CXCR1" transform="rotate(102.75) translate(154) rotate(-102.75)"><use href="#od"/><text y="1.75">CXCR1</text></g>
<g id="b-CD52" transform="rotate(106.5) translate(154) rotate(-106.5)"><use href="#od"/><text y="1.75">CD52</text></g>
<g id="b-BCL2A1" transform="rotate(110.25) translate(154) rotate(-110.25)"><use href="#od"/><text y="1.75">BCL2A1</text></g>
<g id="b-AIF1" transform="rotate(114) translate(154) rotate(-114)"><use href="#od"/><text y="1.75">AIF1</text></g>
<g id="b-C3AR1" transform="rotate(117.75) translate(154) rotate(-117.75)"><use href="#od"/><text y="1.75">C3AR1</text></g>
<g id="b-GPR84" transform="rotate(121.5) translate(154) rotate(-121.5)"><use href="#od"/><text y="1.75">GPR84</text></g>
<g id="b-STAB1" transform="rotate(125.25) translate(154) rotate(-125.25)"><use href="#od"/><text y="1.75">STAB1</text></g>
<g id="b-C5AR1" transform="rotate(129) translate(154) rotate(-129)"><use href="#od"/><text y="1.75">C5AR1</text></g>
<g id="b-TNFAIP6" transform="rotate(132.75) translate(154) rotate(-132.75)"><use href="#od"/><text y="1.75">TNFAIP6</text></g>
<g id="b-CXCL13" transform="rotate(136.5) translate(154) rotate(-136.5)"><use href="#od"/><text y="1.75">CXCL13</text></g>
<g id="b-SIGLEC7" transform="rotate(140.25) translate(154) rotate(-140.25)"><use href="#od"/><text y="1.75">SIGLEC7</text></g>
<g id="b-CD6" transform="rotate(144) translate(154) rotate(-144)"><use href="#od"/><text y="1.75">CD6</text></g>
<g id="b-AQP9" transform="rotate(147.75) translate(154) rotate(-147.75)"><use href="#od"/><text y="1.75">AQP9</text></g>
<g id="b-UBASH3A" transform="rotate(151.5) translate(154) rotate(-151.5)"><use href="#od"/><text y="1.75">UBASH3A</text></g>
<g id="b-FPR1" transform="rotate(155.25) translate(154) rotate(-155.25)"><use href="#od"/><text y="1.75">FPR1</text></g>
<g id="b-CCL18" transform="rotate(159) translate(154) rotate(-159)"><use href="#od"/><text y="1.75">CCL18</text></g>
<g id="b-RASGRP1" transform="rotate(162.75) translate(154) rotate(-162.75)"><use href="#od"/><text y="1.75">RASGRP1</text></g>
<g id="b-PROK2" transform="rotate(166.5) translate(154) rotate(-166.5)"><use href="#od"/><text y="1.75">PROK2</text></g>
<g id="b-FGR" transform="rotate(170.25) translate(154) rotate(-170.25)"><use href="#od"/><text y="1.75">FGR</text></g>
<g id="b-GPSM3" transform="rotate(174) translate(154) rotate(-174)"><use href="#od"/><text y="1.75">GPSM3</text></g>
<g id="b-CFP" transform="rotate(177.75) translate(154) rotate(-177.75)"><use href="#od"/><text y="1.75">CFP</text></g>
<g id="b-MMP12" transform="rotate(181.5) translate(154) rotate(-181.5)"><use href="#od"/><text y="1.75">MMP12</text></g>
<g id="b-P2RY13" transform="rotate(185.25) translate(154) rotate(-185.25)"><use href="#od"/><text y="1.75">P2RY13</text></g>
<g id="b-DOK3" transform="rotate(189) translate(154) rotate(-189)"><use href="#od"/><text y="1.75">DOK3</text></g>
<g id="b-FSCN1" transform="rotate(192.75) translate(154) rotate(-192.75)"><use href="#od"/><text y="1.75">FSCN1</text></g>
<g id="b-CLEC7A" transform="rotate(196.5) translate(154) rotate(-196.5)"><use href="#od"/><text y="1.75">CLEC7A</text></g>
<g id="b-FPR2" transform="rotate(200.25) translate(154) rotate(-200.25)"><use href="#od"/><text y="1.75">FPR2</text></g>
<g id="b-ALOX5AP" transform="rotate(204) translate(154) rotate(-204)"><use href="#od"/><text y="1.75">ALOX5AP</text></g>
<g id="b-CXCL2" transform="rotate(207.75) translate(154) rotate(-207.75)"><use href="#od"/><text y="1.75">CXCL2</text></g>
<g id="b-TIMP1" transform="rotate(211.5) translate(154) rotate(-211.5)"><use href="#od"/><text y="1.75">TIMP1</text></g>
<g id="b-LY86" transform="rotate(215.25) translate(154) rotate(-215.25)"><use href="#od"/><text y="1.75">LY86</text></g>
<g id="b-CYTIP" transform="rotate(219) translate(154) rotate(-219)"><use href="#od"/><text y="1.75">CYTIP</text></g>
<g id="b-CD86" transform="rotate(222.75) translate(154) rotate(-222.75)"><use href="#od"/><text y="1.75">CD86</text></g>
<g id="b-EGR2" transform="rotate(226.5) translate(154) rotate(-226.5)"><use href="#od"/><text y="1.75">EGR2</text></g>
<g id="b-RGS18" transform="rotate(230.25) translate(154) rotate(-230.25)"><use href="#od"/><text y="1.75">RGS18</text></g>
<g id="b-MPEG1" transform="rotate(234) translate(154) rotate(-234)"><use href="#od"/><text y="1.75">MPEG1</text></g>
<g id="b-CTSS" transform="rotate(237.75) translate(154) rotate(-237.75)"><use href="#od"/><text y="1.75">CTSS</text></g>
<g id="b-CLEC4E" transform="rotate(241.5) translate(154) rotate(-241.5)"><use href="#od"/><text y="1.75">CLEC4E</text></g>
<g id="b-CCL11" transform="rotate(245.25) translate(154) rotate(-245.25)"><use href="#od"/><text y="1.75">CCL11</text></g>
<g id="b-ARHGAP4" transform="rotate(249) translate(154) rotate(-249)"><use href="#od"/><text y="1.75">ARHGAP4</text></g>
<g id="b-IL2RG" transform="rotate(252.75) translate(154) rotate(-252.75)"><use href="#od"/><text y="1.75">IL2RG</text></g>
<g id="b-IFI30" transform="rotate(256.5) translate(154) rotate(-256.5)"><use href="#od"/><text y="1.75">IFI30</text></g>
<g id="b-IKZF1" transform="rotate(260.25) translate(154) rotate(-260.25)"><use href="#od"/><text y="1.75">IKZF1</text></g>
<g id="b-CD74" transform="rotate(264) translate(154) rotate(-264)"><use href="#od"/><text y="1.75">CD74</text></g>
<g id="b-LAIR1" transform="rotate(267.75) translate(154) rotate(-267.75)"><use href="#od"/><text y="1.75">LAIR1</text></g>
<g id="b-IL10RA" transform="rotate(271.5) translate(154) rotate(-271.5)"><use href="#od"/><text y="1.75">IL10RA</text></g>
<g id="b-CXCR4" transform="rotate(275.25) translate(154) rotate(-275.25)"><use href="#od"/><text y="1.75">CXCR4</text></g>
<g id="b-DOCK2" transform="rotate(279) translate(154) rotate(-279)"><use href="#od"/><text y="1.75">DOCK2</text></g>
<g id="b-SASH3" transform="rotate(282.75) translate(154) rotate(-282.75)"><use href="#od"/><text y="1.75">SASH3</text></g>
<g id="b-FCGR3A" transform="rotate(286.5) translate(154) rotate(-286.5)"><use href="#od"/><text y="1.75">FCGR3A</text></g>
<g id="b-CD37" transform="rotate(290.25) translate(154) rotate(-290.25)"><use href="#od"/><text y="1.75">CD37</text></g>
<g id="b-LTF" transform="rotate(294) translate(154) rotate(-294)"><use href="#od"/><text y="1.75">LTF</text></g>
<g id="b-TNFSF8" transform="rotate(297.75) translate(154) rotate(-297.75)"><use href="#od"/><text y="1.75">TNFSF8</text></g>
<g id="b-LCN2" transform="rotate(301.5) translate(154) rotate(-301.5)"><use href="#od"/><text y="1.75">LCN2</text></g>
<g id="b-CST7" transform="rotate(305.25) translate(154) rotate(-305.25)"><use href="#od"/><text y="1.75">CST7</text></g>
<g id="b-LST1" transform="rotate(309) translate(154) rotate(-309)"><use href="#od"/><text y="1.75">LST1</text></g>
<g id="b-LCP1" transform="rotate(312.75) translate(154) rotate(-312.75)"><use href="#od"/><text y="1.75">LCP1</text></g>
<g id="b-BID" transform="rotate(316.5) translate(154) rotate(-316.5)"><use href="#od"/><text y="1.75">BID</text></g>
<g id="b-CLEC5A" transform="rotate(320.25) translate(154) rotate(-320.25)"><use href="#od"/><text y="1.75">CLEC5A</text></g>
<g id="b-CCL3" transform="rotate(324) translate(154) rotate(-324)"><use href="#od"/><text y="1.75">CCL3</text></g>
<g id="b-GPR65" transform="rotate(327.75) translate(154) rotate(-327.75)"><use href="#od"/><text y="1.75">GPR65</text></g>
<g id="b-RNASE2" transform="rotate(331.5) translate(154) rotate(-331.5)"><use href="#od"/><text y="1.75">RNASE2</text></g>
<g id="b-SELL" transform="rotate(335.25) translate(154) rotate(-335.25)"><use href="#od"/><text y="1.75">SELL</text></g>
<g id="b-FCGR1A" transform="rotate(339) translate(154) rotate(-339)"><use href="#od"/><text y="1.75">FCGR1A</text></g>
<g id="b-CSF3R" transform="rotate(342.75) translate(154) rotate(-342.75)"><use href="#od"/><text y="1.75">CSF3R</text></g>
<g id="b-KIF2A" transform="rotate(346.5) translate(154) rotate(-346.5)"><use href="#od"/><text y="1.75">KIF2A</text></g>
<g id="b-LGALS9" transform="rotate(350.25) translate(154) rotate(-350.25)"><use href="#od"/><text y="1.75">LGALS9</text></g>
<g id="b-C1orf162" transform="rotate(354) translate(154) rotate(-354)"><use href="#od"/><text y="1.75">C1orf162</text></g>
<g id="b-FCGR2A" transform="rotate(357.75) translate(154) rotate(-357.75)"><use href="#od"/><text y="1.75">FCGR2A</text></g>
</g>
<g id="b-CD53" transform="translate(506.7 129.3)"><use href="#idm" fill="#f5bd0f"/><text y="1.75">CD53</text></g>
<g id="b-LCP2" transform="translate(476.7 139.3)"><use href="#idm" fill="#f05a16"/><text y="1.75">LCP2</text></g>
<g id="b-CYBB" transform="translate(537.3 139.3)"><use href="#idm" fill="#f6b012"/><text y="1.75">CYBB</text></g>
<g id="b-FCER1G" transform="translate(458.3 164.3)"><use href="#idm" fill="#f8e01c"/><text y="1.75">FCER1G</text></g>
<g id="b-HCK" transform="translate(556 164.3)"><use href="#idm" fill="#e81c1c"/><text y="1.75">HCK</text></g>
<g id="b-SPI1" transform="translate(458.3 196)"><use href="#idm" fill="#f26b14"/><text y="1.75">SPI1</text></g>
<g id="b-MNDA" transform="translate(556 196)"><use href="#idm" fill="#f59c12"/><text y="1.75">MNDA</text></g>
<g id="b-LILRB2" transform="translate(476.7 222.7)"><use href="#idm" fill="#e8401a"/><text y="1.75">LILRB2</text></g>
<g id="b-ITGAM" transform="translate(537.3 222.7)"><use href="#idm" fill="#f68512"/><text y="1.75">ITGAM</text></g>
<g id="b-TYROBP" transform="translate(506.7 232.7)"><use href="#idm" fill="#e0141c"/><text y="1.75">TYROBP</text></g>
</g>
</svg>
